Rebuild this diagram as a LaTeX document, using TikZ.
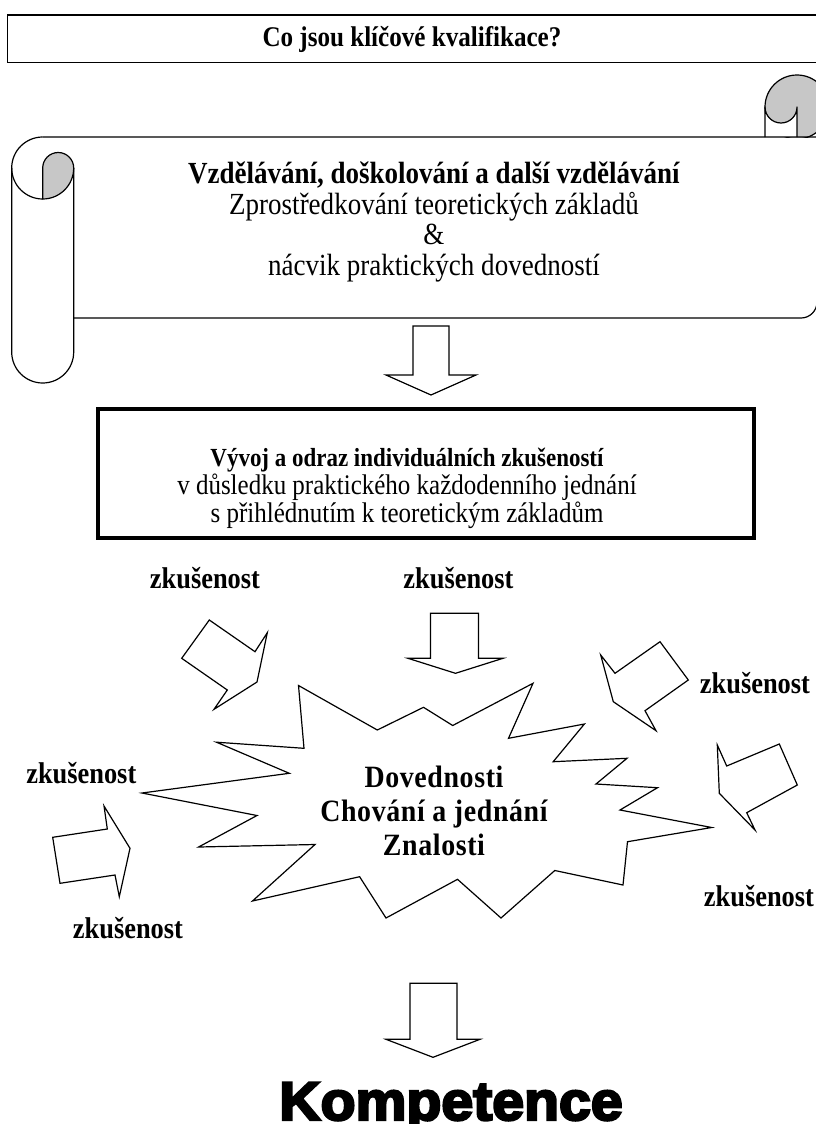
\documentclass[tikz,border=0pt]{standalone}
\usepackage{fontspec}
\setmainfont{Liberation Serif}[FakeStretch=0.88]
\newfontfamily\corefont{Liberation Serif}[FakeStretch=0.9,LetterSpace=2]
\newfontfamily\kompfont{Liberation Sans}[BoldFeatures={FakeBold=4.5,FakeStretch=1.05}]
\begin{document}
\begin{tikzpicture}[x=1pt,y=-1pt,
  outl/.style={draw=black, line width=1.2pt, line join=round},
  barrow/.style={draw=black, line width=1.2pt, fill=white, line join=miter},
  curlfill/.style={draw=black, line width=1.2pt, fill=black!22},
  lbl/.style={font=\fontsize{30}{34}\selectfont\bfseries, inner sep=0pt},
]
\useasboundingbox (0,0) rectangle (815,1124);
\fill[white] (0,0) rectangle (815,1124);

% ---------- title ----------
\draw[line width=1.5pt] (7.5,15) rectangle (822,62.5);
\node[font=\fontsize{28.5}{32}\selectfont\bfseries] (title) at (412,39) {Co jsou klíčové kvalifikace?};

% ---------- scroll ----------
% right curl
\begin{scope}
  \clip (700,0) rectangle (830,137);
  \draw[curlfill] (797,107) circle[radius=32];
\end{scope}
\filldraw[outl, fill=white] (765,137) -- (765,107) arc[start angle=180,end angle=0,radius=16] -- (797,137);
% body
\draw[outl] (42.7,137) -- (817,137) -- (817,302) arc[start angle=0,end angle=90,radius=16] -- (73.7,318);
% left roll
\draw[outl] (42.7,137) arc[start angle=270,end angle=90,radius=31];
\draw[outl] (11.7,168) -- (11.7,352) arc[start angle=180,end angle=0,radius=31] -- (73.7,168);
\draw[curlfill] (42.7,199) -- (42.7,168) arc[start angle=180,end angle=360,radius=15.5]
  arc[start angle=0,end angle=90,radius=31] -- cycle;
\node[align=center, font=\fontsize{30.7}{30.5}\selectfont] (scrolltext) at (434,222)
  {\textbf{Vzdělávání, doškolování a další vzdělávání}\\Zprostředkování teoretických základů\\\&\\nácvik praktických dovedností};

% arrow under scroll
\draw[barrow] (413,326) -- (449,326) -- (449,375) -- (476,375) -- (431,395) -- (386,375) -- (413,375) -- cycle;

% ---------- middle box ----------
\draw[line width=4pt] (98,409) rectangle (754,538);
\node[align=center, font=\fontsize{28.4}{28}\selectfont] (expbox) at (407,488)
  {{\fontsize{26.1}{28}\selectfont\bfseries Vývoj a odraz individuálních zkušeností}\\v důsledku praktického každodenního jednání\\s přihlédnutím k teoretickým základům};

% ---------- starburst ----------
\draw[outl, line join=miter] (298.5,685.5) -- (377.3,730) -- (423.5,707.3) -- (452.7,725.5) -- (533,683.3)
  -- (508.5,738.3) -- (584.4,724) -- (553.2,761.7) -- (627,758.3) -- (596,784) -- (657.5,787.7)
  -- (620,810) -- (711.7,827.5) -- (627.5,841.7) -- (623,885) -- (554.8,870.5) -- (501,918)
  -- (457.5,879.3) -- (386,918) -- (359.6,876.7) -- (252.5,901) -- (315,844.5) -- (198.6,847)
  -- (257,815.5) -- (142,793) -- (289.3,773.3) -- (216.5,742.2) -- (304,748.3) -- cycle;
\node[align=center, font=\corefont\fontsize{31}{34}\selectfont\bfseries] (core) at (434,811)
  {Dovednosti\\Chování a jednání\\Znalosti};

% ---------- experience arrows ----------
\draw[barrow] (430.5,613.3) -- (478.5,613.3) -- (478.5,658.3) -- (503,658.3) -- (455.5,673.3) -- (408,658.3) -- (430.5,658.3) -- cycle;
\draw[barrow] (209.3,620) -- (255,651.7) -- (267.3,632.7) -- (257,682) -- (214,709.3) -- (227.3,690) -- (181.7,658.3) -- cycle;
\draw[barrow] (660,641.7) -- (615,673.3) -- (600.7,655) -- (613.3,701.7) -- (656,730.7) -- (645,710.7) -- (688.3,680) -- cycle;
\draw[barrow] (717.3,745) -- (726.7,766) -- (779.3,744) -- (797.3,785) -- (746.7,812.7) -- (755,830) -- (719.3,793.3) -- cycle;
\draw[barrow] (52.7,837.3) -- (107.3,829) -- (104,806) -- (130,848.3) -- (119.3,896.7) -- (115,875) -- (60,883.3) -- cycle;

% labels
\node[lbl] (z1) at (205,578) {zkušenost};
\node[lbl] (z2) at (458.5,578) {zkušenost};
\node[lbl] (z3) at (755,683) {zkušenost};
\node[lbl] (z4) at (81.3,773.3) {zkušenost};
\node[lbl] (z5) at (128,928.3) {zkušenost};
\node[lbl] (z6) at (759,896) {zkušenost};

% ---------- bottom ----------
\draw[barrow] (410,983.3) -- (457,983.3) -- (457,1039.3) -- (480,1039.3) -- (433,1057.3) -- (386,1039.3) -- (410,1039.3) -- cycle;
\node[font=\kompfont\bfseries\fontsize{54.5}{60}\selectfont, anchor=base, inner sep=0pt] (komp) at (451,1120) {Kompetence};
\end{tikzpicture}
\end{document}
